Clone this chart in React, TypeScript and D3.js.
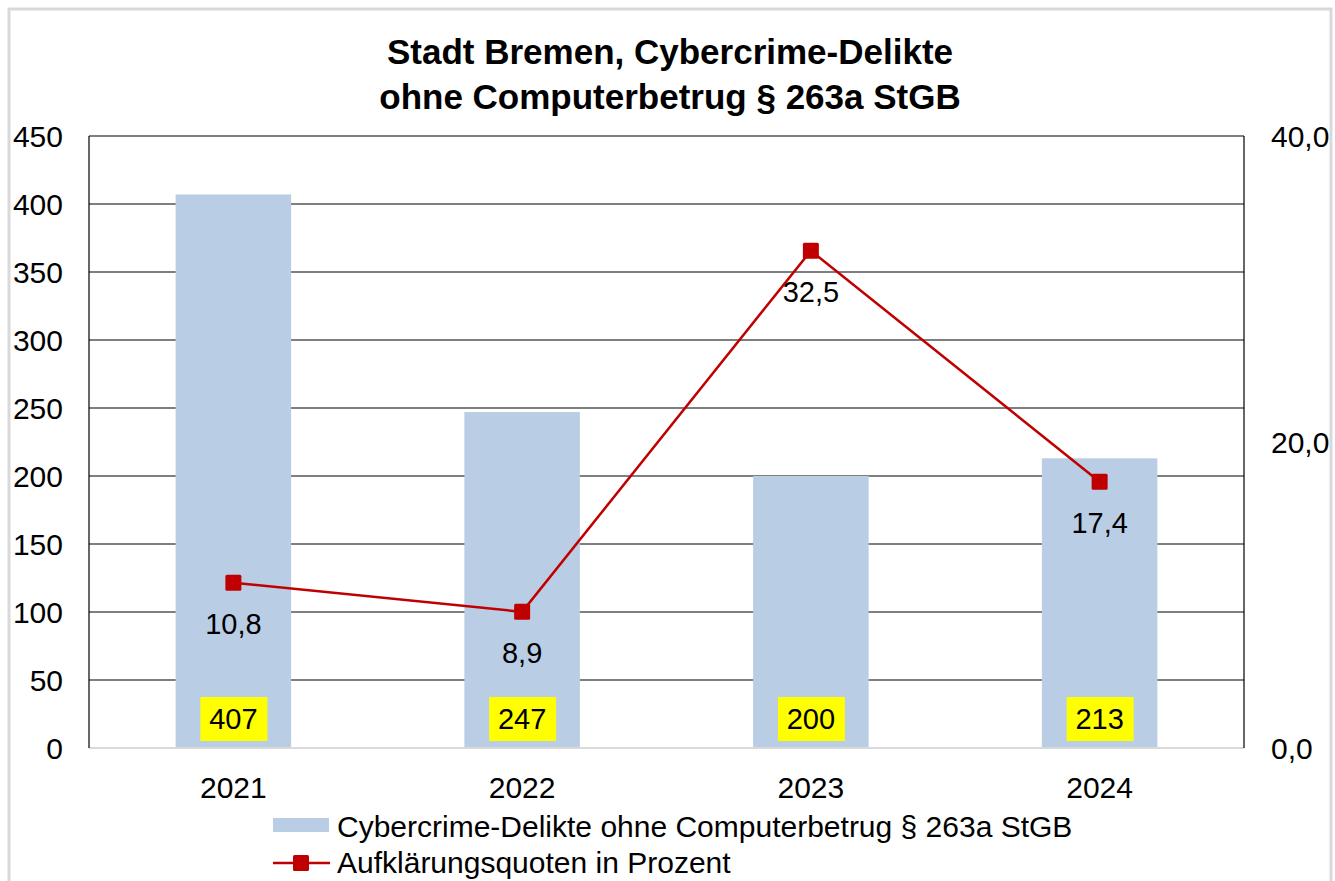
import React from 'react';
import * as d3 from 'd3';

// chart values
const years = ['2021', '2022', '2023', '2024'];
const cases = [407, 247, 200, 213];
const rates = [10.8, 8.9, 32.5, 17.4];
const leftTicks = [0, 50, 100, 150, 200, 250, 300, 350, 400, 450];
const rightTicks = [0, 20, 40];

const titleLines = ['Stadt Bremen, Cybercrime-Delikte', 'ohne Computerbetrug § 263a StGB'];
const barName = 'Cybercrime-Delikte ohne Computerbetrug § 263a StGB';
const lineName = 'Aufklärungsquoten in Prozent';

const W = 1335;
const H = 881;
const font = '"Liberation Sans", Arial, sans-serif';

const de = d3.formatLocale({ decimal: ',', thousands: '.', grouping: [3], currency: ['', '€'] });
const fmt1 = de.format('.1f');

const App = () => {
  const plotL = 89;
  const plotR = 1244;
  const plotT = 136;
  const plotB = 748;

  const x = d3.scaleBand().domain(years).range([plotL, plotR]).paddingInner(0.6).paddingOuter(0.3);
  const yL = d3.scaleLinear().domain([0, 450]).range([plotB, plotT]);
  const yR = d3.scaleLinear().domain([0, 40]).range([plotB, plotT]);
  const cx = (i) => x(years[i]) + x.bandwidth() / 2;

  const line = d3.line()
    .x((d, i) => cx(i))
    .y(d => yR(d));

  return (
    <svg width={W} height={H} style={{ position: 'absolute', left: 0, top: 0, background: '#fff' }}
      fontFamily={font}>
      <rect x={9} y={9} width={1322} height={880} fill="#fff" stroke="#d9d9d9" strokeWidth={3} />

      {titleLines.map((t, i) => (
        <text key={t} x={670} y={51 + i * 45} dy="0.36em" textAnchor="middle" fontSize={35} fontWeight="bold" fill="#000">{t}</text>
      ))}

      {leftTicks.filter(t => t > 0).map(t => (
        <line key={t} x1={plotL} x2={plotR} y1={yL(t)} y2={yL(t)} stroke="#000" strokeWidth={1.2} />
      ))}

      {years.map((yr, i) => (
        <rect key={yr} x={x(yr)} y={yL(cases[i])} width={x.bandwidth()} height={plotB - yL(cases[i])} fill="#b9cde5" />
      ))}

      <line x1={plotL} x2={plotR} y1={plotB} y2={plotB} stroke="#d9d9d9" strokeWidth={2} />
      <line x1={plotL} x2={plotL} y1={plotT} y2={plotB} stroke="#000" strokeWidth={1.2} />
      <line x1={plotR} x2={plotR} y1={plotT} y2={plotB} stroke="#000" strokeWidth={1.2} />

      {leftTicks.map(t => (
        <text key={t} x={63} y={yL(t)} dy="0.36em" textAnchor="end" fontSize={30} fill="#000">{t}</text>
      ))}
      {rightTicks.map(t => (
        <text key={t} x={1271} y={yR(t)} dy="0.36em" textAnchor="start" fontSize={30} fill="#000">{fmt1(t)}</text>
      ))}

      {years.map(yr => (
        <text key={yr} x={x(yr) + x.bandwidth() / 2} y={787} dy="0.36em" textAnchor="middle" fontSize={30} fill="#000">{yr}</text>
      ))}

      {years.map((yr, i) => (
        <g key={yr} transform={`translate(${x(yr) + x.bandwidth() / 2},${719})`}>
          <rect x={-33} y={-22} width={67} height={44} fill="#ffff00" />
          <text x={0} y={0} dy="0.36em" textAnchor="middle" fontSize={29} fill="#000">{cases[i]}</text>
        </g>
      ))}

      <path d={line(rates)} fill="none" stroke="#c00000" strokeWidth={2.5} />
      {rates.map((r, i) => (
        <rect key={i} x={cx(i) - 8} y={yR(r) - 8} width={16} height={16} rx={1.5} fill="#c00000" />
      ))}
      {rates.map((r, i) => (
        <text key={i} x={cx(i)} y={yR(r) + 41} dy="0.36em" textAnchor="middle" fontSize={29} fill="#000">{fmt1(r)}</text>
      ))}

      <rect x={273} y={818} width={56} height={14} fill="#b9cde5" />
      <text x={337} y={826} dy="0.36em" fontSize={30} fill="#000">{barName}</text>
      <line x1={273} x2={330} y1={863} y2={863} stroke="#c00000" strokeWidth={2.5} />
      <rect x={293} y={855} width={16} height={16} rx={1.5} fill="#c00000" />
      <text x={337} y={862} dy="0.36em" fontSize={30} fill="#000">{lineName}</text>
    </svg>
  );
};

export default App;
